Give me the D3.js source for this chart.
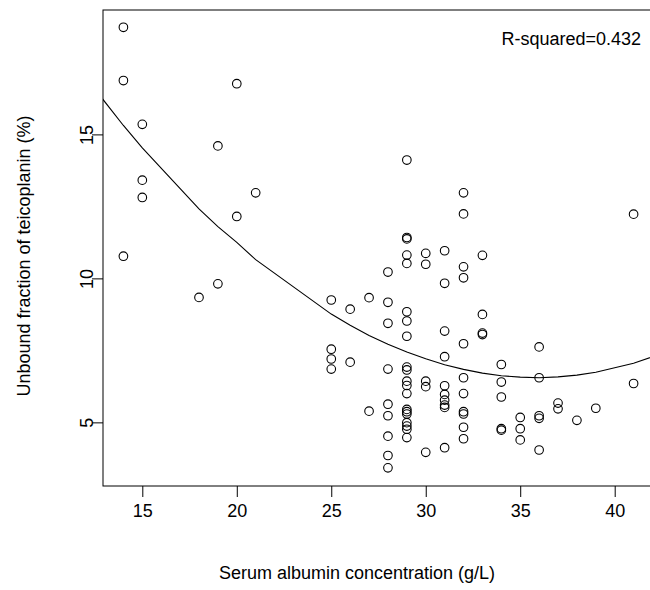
<!DOCTYPE html>
<html>
<head>
<meta charset="utf-8">
<script src="https://cdn.jsdelivr.net/npm/d3@7"></script>
<style>
  body { margin: 0; background: #fff; }
  text { font-family: "Liberation Sans", Arial, sans-serif; fill: #000; }
</style>
</head>
<body>
<div id="chart"></div>
<script>

// Data
const albumin = [
  14, 14, 14,
  15, 15, 15,
  18,
  19, 19,
  20, 20,
  21,
  25, 25, 25, 25,
  26, 26,
  27, 27,
  28, 28, 28, 28, 28, 28, 28, 28, 28,
  29, 29, 29, 29, 29, 29, 29, 29, 29, 29, 29, 29, 29, 29, 29, 29, 29, 29, 29, 29,
  30, 30, 30, 30, 30,
  31, 31, 31, 31, 31, 31, 31, 31, 31, 31,
  32, 32, 32, 32, 32, 32, 32, 32, 32, 32, 32,
  33, 33, 33, 33,
  34, 34, 34, 34, 34,
  35, 35, 35,
  36, 36, 36, 36, 36,
  37, 37,
  38,
  39,
  41, 41
];

const unbound = [
  18.72, 16.87, 10.77,
  15.35, 13.41, 12.81,
  9.34,
  14.6, 9.81,
  16.76, 12.15,
  12.97,
  9.25, 7.54, 7.2, 6.85,
  8.93, 7.09,
  9.33, 5.39,
  10.22, 9.17, 8.44, 6.85, 5.63, 5.23, 4.52, 3.85, 3.42,
  14.11, 11.42, 11.37, 10.81, 10.52, 8.84, 8.52, 7.99, 6.92, 6.82, 6.43, 6.28, 6.0, 5.45, 5.37, 5.29, 4.99, 4.87, 4.76, 4.47,
  10.87, 10.49, 6.43, 6.24, 3.96,
  10.96, 9.83, 8.17, 7.28, 6.27, 5.97, 5.77, 5.6, 5.52, 4.12,
  12.97, 12.24, 10.4, 10.02, 7.73, 6.55, 6.0, 5.37, 5.29, 4.83, 4.43,
  10.8, 8.75, 8.1, 8.05,
  7.01, 6.4, 5.88, 4.78, 4.73,
  5.17, 4.78, 4.39,
  7.62, 6.55, 5.23, 5.14, 4.04,
  5.67, 5.47,
  5.07,
  5.49,
  12.23, 6.35
];

// fitted curve
const fitX = [12, 14, 15, 18, 19, 20, 21, 25, 26, 27, 28, 29, 30, 31, 32, 33, 34, 35, 36, 37, 38, 39, 41, 43];
const fitY = [16.98, 15.31, 14.53, 12.41, 11.8, 11.25, 10.65, 8.76, 8.37, 8.02, 7.71, 7.44, 7.21, 7.0, 6.84, 6.71, 6.62, 6.57, 6.55, 6.58, 6.64, 6.74, 7.05, 7.5];

const xTicks = [15, 20, 25, 30, 35, 40];
const yTicks = [5, 10, 15];
const rsqLabel = "R-squared=0.432";

const width = 650, height = 590;
const margin = {top: 10, right: -4, bottom: 104, left: 103};

const svg = d3.select("#chart")
  .append("svg")
  .attr("width", width)
  .attr("height", height);

// Scales
const xScale = d3.scaleLinear()
  .domain([12.92, 42.08])
  .range([margin.left, width - margin.right]);

const yScale = d3.scaleLinear()
  .domain([2.79, 19.32])
  .range([height - margin.bottom, margin.top]);

svg.append("clipPath")
  .attr("id", "plot-clip")
  .append("rect")
  .attr("x", margin.left)
  .attr("y", margin.top)
  .attr("width", width - margin.right - margin.left)
  .attr("height", height - margin.bottom - margin.top);

// Axes
const xAxis = svg.append("g")
  .attr("transform", `translate(0,${height - margin.bottom})`)
  .call(d3.axisBottom(xScale).tickValues(xTicks).tickSize(11).tickPadding(7).tickSizeOuter(0));
xAxis.select(".domain").remove();
xAxis.selectAll("text").attr("font-size", "18px").attr("font-family", "Liberation Sans, Arial, sans-serif");

const yAxis = svg.append("g")
  .attr("transform", `translate(${margin.left},0)`)
  .call(d3.axisLeft(yScale).tickValues(yTicks).tickSize(11).tickSizeOuter(0));
yAxis.select(".domain").remove();
yAxis.selectAll("text")
  .attr("font-size", "18px")
  .attr("font-family", "Liberation Sans, Arial, sans-serif")
  .attr("x", null)
  .attr("dy", null)
  .style("text-anchor", "middle")
  .attr("transform", "translate(-10,0) rotate(-90)");

svg.selectAll(".tick line").attr("stroke", "#000");

// Box
svg.append("rect")
  .attr("x", margin.left)
  .attr("y", margin.top)
  .attr("width", width - margin.right - margin.left)
  .attr("height", height - margin.bottom - margin.top)
  .attr("fill", "none")
  .attr("stroke", "#000")
  .attr("stroke-width", 1);

// Axis titles
svg.append("text")
  .attr("x", 357)
  .attr("y", 579)
  .attr("font-size", "18px")
  .style("text-anchor", "middle")
  .text("Serum albumin concentration (g/L)");

svg.append("text")
  .attr("transform", "translate(30,256) rotate(-90)")
  .attr("font-size", "18px")
  .style("text-anchor", "middle")
  .text("Unbound fraction of teicoplanin (%)");

// Fitted line
const line = d3.line()
  .x((d, i) => xScale(fitX[i]))
  .y(d => yScale(d));

svg.append("path")
  .datum(fitY)
  .attr("clip-path", "url(#plot-clip)")
  .attr("d", line)
  .attr("fill", "none")
  .attr("stroke", "#000")
  .attr("stroke-width", 1.1);

// Points
svg.append("g")
  .selectAll("circle")
  .data(unbound)
  .enter()
  .append("circle")
    .attr("cx", (d, i) => xScale(albumin[i]))
    .attr("cy", d => yScale(d))
    .attr("r", 4.3)
    .attr("fill", "none")
    .attr("stroke", "#000")
    .attr("stroke-width", 1.1);

svg.append("text")
  .attr("x", 641)
  .attr("y", 45)
  .attr("font-size", "18px")
  .style("text-anchor", "end")
  .text(rsqLabel);

</script>
</body>
</html>
